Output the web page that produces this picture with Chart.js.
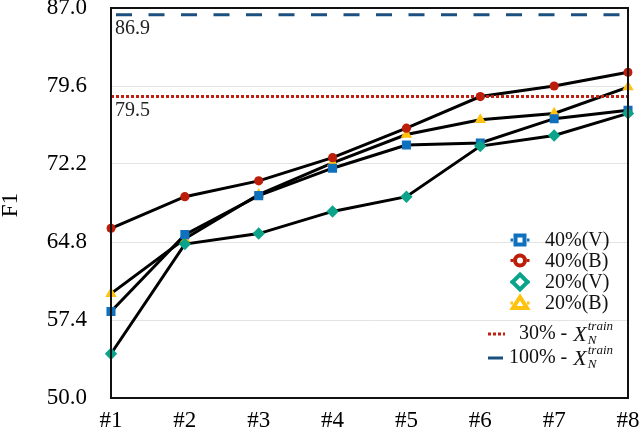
<!DOCTYPE html>
<html><head><meta charset="utf-8">
<script src="https://cdn.jsdelivr.net/npm/chart.js"></script>
<style>html,body{margin:0;padding:0;background:#fff}#wrap{width:640px;height:435px}</style>
</head><body><div id="wrap"><canvas id="c" width="640" height="435"></canvas></div>
<script>
const categories = ['#1', '#2', '#3', '#4', '#5', '#6', '#7', '#8'];
const v40 = [58.2, 65.5, 69.2, 71.8, 74.0, 74.2, 76.5, 77.3];
const b40 = [66.1, 69.1, 70.6, 72.8, 75.6, 78.6, 79.6, 80.9];
const v20 = [54.2, 64.6, 65.6, 67.7, 69.1, 73.9, 74.9, 77.0];
const b20 = [59.9, 65.1, 69.3, 72.3, 75.0, 76.4, 77.0, 79.5];
const seriesNames = ['40%(V)', '40%(B)', '20%(V)', '20%(B)'];
const yTicks = [50.0, 57.4, 64.8, 72.2, 79.6, 87.0];
const refLineValues = [78.6, 86.35];
const refLineLabels = ['79.5', '86.9'];
const refLegendPrefix = ['30% - ', '100% - '];

const COLORS = ['#0F71BD', '#BC1E0A', '#0BA38A', '#FFC20E'];
const STYLES = ['rect', 'circle', 'rectRot', 'triangle'];
const RADII = [6.4, 4.6, 6.2, 6.6];
const REF_COLORS = ['#C0200F', '#1B4F80'];
const SERIF = '"Liberation Serif", "DejaVu Serif", serif';

const seriesData = [v40, b40, v20, b20];

const datasets = seriesData.map((d, i) => ({
  label: seriesNames[i],
  data: d,
  borderColor: '#000',
  borderWidth: 3,
  pointStyle: STYLES[i],
  pointRadius: RADII[i],
  pointBackgroundColor: COLORS[i],
  pointBorderColor: COLORS[i],
  pointBorderWidth: 0,
  fill: false,
  tension: 0,
  order: [2, 3, 1, 4][i]
}));

function drawMarker(ctx, style, x, y, color) {
  ctx.save();
  ctx.strokeStyle = color;
  ctx.fillStyle = '#fff';
  ctx.lineWidth = 4;
  ctx.beginPath();
  if (style === 'rect') {
    ctx.rect(x - 4.5, y - 4.5, 9, 9);
  } else if (style === 'circle') {
    ctx.arc(x, y, 5, 0, Math.PI * 2);
  } else if (style === 'rectRot') {
    ctx.moveTo(x, y - 7.5); ctx.lineTo(x + 7.5, y); ctx.lineTo(x, y + 7.5); ctx.lineTo(x - 7.5, y); ctx.closePath();
  } else {
    ctx.moveTo(x, y - 6); ctx.lineTo(x + 7, y + 5); ctx.lineTo(x - 7, y + 5); ctx.closePath();
  }
  ctx.fill(); ctx.stroke();
  ctx.lineWidth = 3;
  ctx.beginPath();
  ctx.moveTo(x - 9.5, y); ctx.lineTo(x - 7, y);
  ctx.moveTo(x + 7, y); ctx.lineTo(x + 9.5, y);
  ctx.stroke();
  ctx.restore();
}

const overlay = {
  id: 'overlay',
  afterDatasetsDraw(chart) {
    const ctx = chart.ctx;
    const a = chart.chartArea;
    const y = chart.scales.y;
    ctx.save();
    refLineValues.forEach((v, i) => {
      const py = y.getPixelForValue(v);
      ctx.beginPath();
      ctx.strokeStyle = REF_COLORS[i];
      ctx.lineWidth = 3;
      ctx.setLineDash(i === 0 ? [3, 2] : [16, 16.5]);
      ctx.lineDashOffset = i === 0 ? 0 : -5;
      ctx.moveTo(a.left, py); ctx.lineTo(a.right, py);
      ctx.stroke();
      ctx.setLineDash([]);
      ctx.fillStyle = '#222';
      ctx.font = '20px ' + SERIF;
      ctx.textBaseline = 'middle';
      ctx.textAlign = 'left';
      ctx.fillText(refLineLabels[i], a.left + 4, py + 14);
    });
    ctx.strokeStyle = '#111';
    ctx.lineWidth = 2;
    ctx.strokeRect(a.left, a.top, a.right - a.left, a.bottom - a.top);
    ctx.save();
    ctx.translate(11, 205);
    ctx.rotate(-Math.PI / 2);
    ctx.fillStyle = '#000';
    ctx.font = '23px ' + SERIF;
    ctx.textAlign = 'center';
    ctx.textBaseline = 'middle';
    ctx.fillText('F1', 0, 0);
    ctx.restore();
    const rowsY = [240, 260.5, 282, 303];
    seriesNames.forEach((n, i) => {
      drawMarker(ctx, STYLES[i], 520, rowsY[i], COLORS[i]);
      ctx.fillStyle = '#111';
      ctx.font = '20px ' + SERIF;
      ctx.textAlign = 'left';
      ctx.textBaseline = 'middle';
      ctx.fillText(n, 545, rowsY[i] + 1);
    });
    const refRows = [334, 358];
    refRows.forEach((ry, i) => {
      ctx.beginPath();
      ctx.strokeStyle = REF_COLORS[i];
      ctx.lineWidth = 3;
      ctx.setLineDash(i === 0 ? [3, 2] : []);
      ctx.moveTo(488, ry); ctx.lineTo(i === 0 ? 505 : 503, ry);
      ctx.stroke();
      ctx.setLineDash([]);
      ctx.font = 'italic 13px ' + SERIF;
      const wSup = ctx.measureText('train').width;
      ctx.font = 'italic 22px ' + SERIF;
      const wX = ctx.measureText('X').width;
      const supX = 613 - wSup;
      const xX = supX - wX - 1;
      ctx.fillStyle = '#111';
      ctx.textAlign = 'left';
      ctx.textBaseline = 'middle';
      ctx.fillText('X', xX, ry + 1);
      ctx.font = 'italic 13px ' + SERIF;
      ctx.fillText('train', supX, ry - 7);
      ctx.fillText('N', supX, ry + 7);
      ctx.font = '20px ' + SERIF;
      ctx.textAlign = 'right';
      ctx.fillText(refLegendPrefix[i], xX - 1, ry);
    });
    ctx.restore();
  }
};

new Chart(document.getElementById('c'), {
  type: 'line',
  data: { labels: categories, datasets },
  options: {
    responsive: false,
    animation: false,
    devicePixelRatio: 1,
    layout: { padding: { top: 8, right: 12, left: 0, bottom: 0 } },
    plugins: { legend: { display: false }, tooltip: { enabled: false } },
    scales: {
      x: {
        type: 'category',
        offset: false,
        grid: { display: false, drawTicks: false },
        border: { display: false },
        ticks: { color: '#000', font: { size: 23, family: SERIF }, padding: 9, maxRotation: 0, autoSkip: false },
        afterFit(s) { s.height = 37; s.paddingLeft = 0; s.paddingRight = 0; }
      },
      y: {
        min: 50, max: 87,
        afterBuildTicks(s) { s.ticks = yTicks.map(v => ({ value: v })); },
        grid: { color: '#e3e3e3', lineWidth: 1, drawTicks: false },
        border: { display: false },
        ticks: { color: '#000', font: { size: 23, family: SERIF }, padding: 24, callback: v => Number(v).toFixed(1) },
        afterFit(s) { s.width = 111; s.paddingTop = 0; s.paddingBottom = 0; }
      }
    }
  },
  plugins: [overlay]
});
</script>
</body></html>
